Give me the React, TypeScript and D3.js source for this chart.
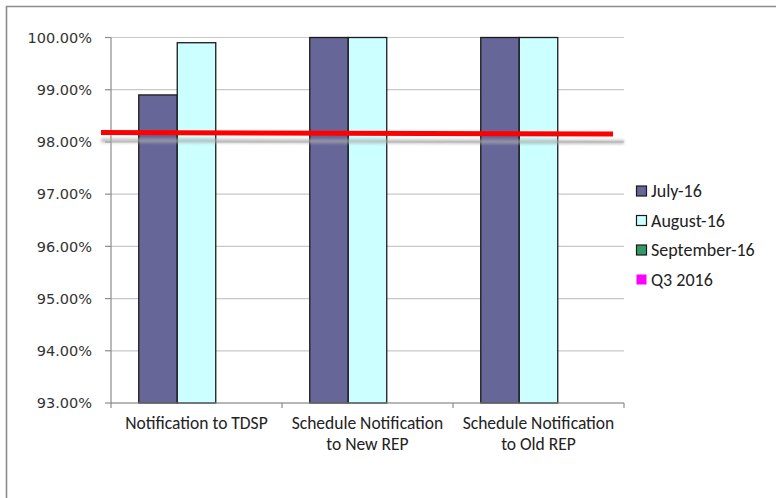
import React from "react";
import * as d3 from "d3";

const categories = ["Notification to TDSP", "Schedule Notification to New REP", "Schedule Notification to Old REP"];
const categoryLines = [["Notification to TDSP"], ["Schedule Notification", "to New REP"], ["Schedule Notification", "to Old REP"]];
const seriesNames = ["July-16", "August-16", "September-16"];
const july = [0.989, 1.0, 1.0];
const august = [0.999, 1.0, 1.0];
const september: (number | null)[] = [null, null, null];
const legendNames = ["July-16", "August-16", "September-16", "Q3 2016"];
const yTicks = [0.93, 0.94, 0.95, 0.96, 0.97, 0.98, 0.99, 1.0];
const targetStart = 0.9818;
const targetEnd = 0.9815;

const colors = ["#666699", "#CCFFFF", "#339966", "#FF00FF"];

export default function App() {
  const W = 776, H = 498;
  const plotL = 111, plotR = 624, plotT = 37.5, plotB = 403;
  const y = d3.scaleLinear().domain([0.93, 1.0]).range([plotB, plotT]);
  const x0 = d3.scaleBand().domain(categories).range([plotL, plotR]).paddingInner(0).paddingOuter(0);
  const bw = x0.bandwidth();
  const barW = 38.5;
  const x1 = d3.scaleBand().domain(seriesNames).range([(bw - 3 * barW) / 2, (bw + 3 * barW) / 2]);
  const series = [july, august, september];
  const fmt = d3.format(".2%");
  const labelFont = "Verdana, 'DejaVu Sans', sans-serif";
  const calFont = "Carlito, Lato, 'Open Sans', sans-serif";
  const targetX0 = 101, targetX1 = 613;
  const tScale = d3.scaleLinear().domain([0, 1]).range([targetStart, targetEnd]);

  return (
    <svg width={W} height={H} style={{ position: "absolute", left: 0, top: 0, background: "#fff" }}>
      <defs>
        <filter id="blur" x="-5%" y="-200%" width="110%" height="500%">
          <feGaussianBlur stdDeviation="1.8" />
        </filter>
      </defs>
      <rect x={0} y={0} width={W} height={H} fill="#fff" />
      <path d={`M6.5,${H} V6.5 H${W}`} fill="none" stroke="#8c8c8c" strokeWidth={1.6} />
      {yTicks.map((t) => (
        <line key={t} x1={plotL} x2={plotR} y1={y(t)} y2={y(t)} stroke="#c8c8c8" strokeWidth={1.2} />
      ))}
      <line x1={plotL} x2={plotL} y1={plotT} y2={plotB} stroke="#8c8c8c" strokeWidth={1.2} />
      {yTicks.map((t) => (
        <g key={"yt" + t}>
          <line x1={plotL - 6} x2={plotL} y1={y(t)} y2={y(t)} stroke="#8c8c8c" strokeWidth={1.2} />
          <text x={92} y={y(t)} dy="0.36em" textAnchor="end" fontFamily={labelFont} fontSize={14.5} fill="#333">
            {fmt(t)}
          </text>
        </g>
      ))}
      {categories.map((c, ci) => (
        <g key={c} transform={`translate(${x0(c)},0)`}>
          {series.map((s, si) => {
            const v = s[ci];
            if (v == null) return null;
            return (
              <rect key={si} x={x1(seriesNames[si])} y={y(v)} width={x1.bandwidth()} height={plotB - y(v)}
                fill={colors[si]} stroke="#1a1a1a" strokeWidth={1.3} />
            );
          })}
        </g>
      ))}
      <line x1={plotL} x2={plotR} y1={plotB} y2={plotB} stroke="#8c8c8c" strokeWidth={1.2} />
      {[...categories.map((c) => x0(c) as number), plotR].map((v, i) => (
        <line key={"xt" + i} x1={v} x2={v} y1={plotB} y2={plotB + 5} stroke="#8c8c8c" strokeWidth={1.2} />
      ))}
      {categories.map((c, ci) => (
        <text key={"xl" + c} x={(x0(c) as number) + bw / 2} y={429} textAnchor="middle" fontFamily={calFont} fontSize={17.5} fill="#222">
          {categoryLines[ci].map((l, li) => (
            <tspan key={li} x={(x0(c) as number) + bw / 2} dy={li === 0 ? 0 : 21}>{l}</tspan>
          ))}
        </text>
      ))}
      <line x1={targetX0} x2={plotR} y1={y(tScale(0)) + 8} y2={y(tScale(1)) + 8} stroke="#aaa" strokeWidth={4} filter="url(#blur)" opacity={0.75} />
      <line x1={targetX0} x2={targetX1} y1={y(tScale(0))} y2={y(tScale(1))} stroke="#FF0000" strokeWidth={5} />
      {legendNames.map((n, i) => (
        <g key={n} transform={`translate(636,${191 + i * 29.5})`}>
          <rect x={0.5} y={-5} width={10} height={10} fill={colors[i]} stroke={i === 3 ? "none" : "#1a1a1a"} strokeWidth={1.2} />
          <text x={15} y={0} dy="0.35em" fontFamily={calFont} fontSize={18} fill="#222">{n}</text>
        </g>
      ))}
    </svg>
  );
}
